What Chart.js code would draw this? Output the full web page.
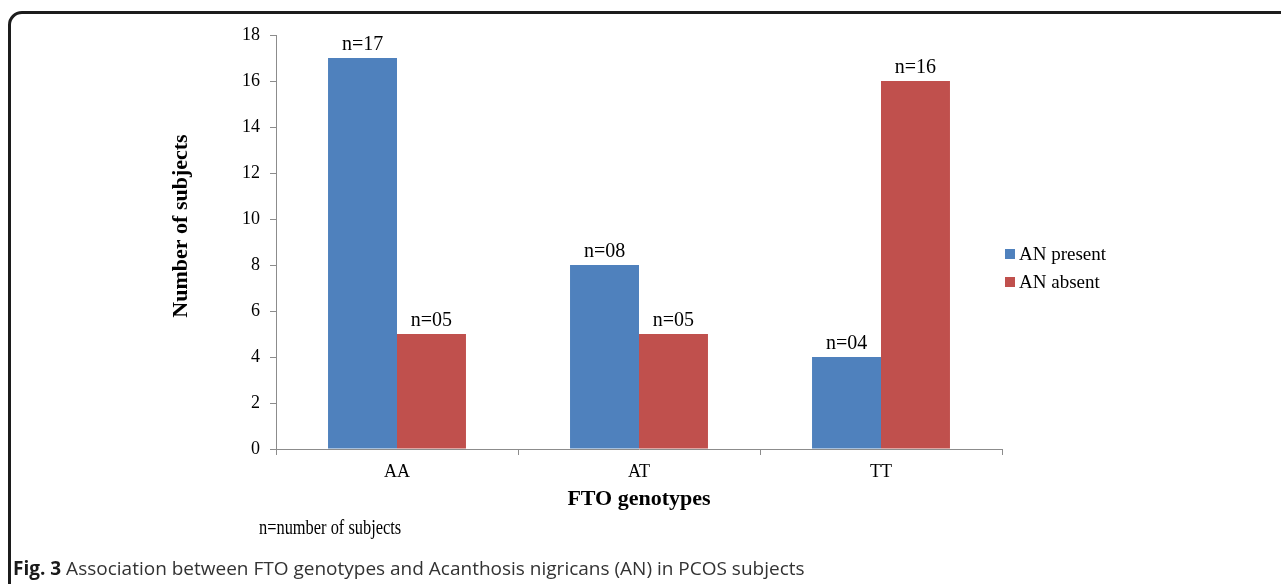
<!DOCTYPE html>
<html>
<head>
<meta charset="utf-8">
<script src="https://cdn.jsdelivr.net/npm/chart.js@4.4.1/dist/chart.umd.min.js"></script>
<style>
  html, body { margin: 0; padding: 0; background: #ffffff; }
  body { width: 1281px; height: 584px; position: relative; overflow: hidden; }
  #frame {
    position: absolute; left: 8px; top: 11px; width: 1400px; height: 700px;
    border: 3px solid #1c1c1c; border-radius: 14px; box-sizing: border-box;
  }
  #chart { position: absolute; left: 0; top: 0; }
  #note {
    position: absolute; left: 259px; top: 516px;
    font: 20px "Liberation Serif", "Times New Roman", serif; color: #000; white-space: nowrap;
    transform: scaleX(0.82); transform-origin: left center;
  }
  #caption {
    position: absolute; left: 13px; top: 555px;
    font: 19px "Open Sans", sans-serif; color: #333; white-space: nowrap;
  }
  #caption b { color: #1a1a1a; font-weight: 700; }
</style>
</head>
<body>
<div id="frame"></div>
<canvas id="chart" width="1281" height="584"></canvas>
<div id="note">n=number of subjects</div>
<div id="caption"><b>Fig. 3</b> Association between FTO genotypes and Acanthosis nigricans (AN) in PCOS subjects</div>
<script>
// Genotype groups and subject counts per group
const categories = ['AA', 'AT', 'TT'];
const seriesNames = ['AN present', 'AN absent'];
const anPresent = [17, 8, 4];
const anAbsent = [5, 5, 16];
const seriesColors = ['#4F81BD', '#C0504D'];
const yMax = 18;
const yStep = 2;

const serif = '"Liberation Serif", "Times New Roman", serif';
const axisGray = '#8c8c8c';

// "n=17" style labels above each bar
const countLabels = {
  id: 'countLabels',
  afterDatasetsDraw(chart) {
    const ctx = chart.ctx;
    ctx.save();
    ctx.font = '20px ' + serif;
    ctx.fillStyle = '#000';
    ctx.textAlign = 'center';
    ctx.textBaseline = 'bottom';
    chart.data.datasets.forEach((ds, i) => {
      chart.getDatasetMeta(i).data.forEach((bar, j) => {
        const v = ds.data[j];
        ctx.fillText('n=' + String(v).padStart(2, '0'), bar.x, bar.y - 3);
      });
    });
    ctx.restore();
  }
};

// Rotated y-axis title and the series key on the right
const extras = {
  id: 'extras',
  afterDraw(chart) {
    const ctx = chart.ctx;
    ctx.save();
    ctx.translate(181, 226);
    ctx.rotate(-Math.PI / 2);
    ctx.font = 'bold 22px ' + serif;
    ctx.fillStyle = '#000';
    ctx.textAlign = 'center';
    ctx.textBaseline = 'middle';
    ctx.fillText('Number of subjects', 0, 0);
    ctx.restore();

    ctx.save();
    ctx.font = '19px ' + serif;
    ctx.textBaseline = 'middle';
    chart.data.datasets.forEach((ds, i) => {
      const y = 254 + i * 28;
      ctx.fillStyle = ds.backgroundColor;
      ctx.fillRect(1005, y - 5, 10, 10);
      ctx.fillStyle = '#000';
      ctx.fillText(ds.label, 1019, y + 1);
    });
    ctx.restore();
  }
};

new Chart(document.getElementById('chart'), {
  type: 'bar',
  data: {
    labels: categories,
    datasets: [
      { label: seriesNames[0], data: anPresent, backgroundColor: seriesColors[0] },
      { label: seriesNames[1], data: anAbsent, backgroundColor: seriesColors[1] }
    ]
  },
  options: {
    responsive: false,
    animation: false,
    devicePixelRatio: 1,
    layout: { padding: { left: 20, top: 35, right: 279, bottom: 65 } },
    datasets: { bar: { barPercentage: 1, categoryPercentage: 0.57, borderWidth: 0 } },
    plugins: { legend: { display: false }, tooltip: { enabled: false } },
    scales: {
      x: {
        afterFit(s) { s.height = 70; },
        grid: { drawOnChartArea: false, drawTicks: true, tickLength: 6, color: axisGray, offset: true },
        border: { display: true, color: axisGray, width: 1 },
        ticks: { color: '#000', font: { family: serif, size: 18 }, padding: 6 },
        title: {
          display: true, text: 'FTO genotypes', color: '#000',
          font: { family: serif, size: 22, weight: 'bold' },
          padding: { top: 0, bottom: 6 }
        }
      },
      y: {
        min: 0, max: yMax,
        afterFit(s) { s.width = 256; },
        grid: { drawOnChartArea: false, drawTicks: true, tickLength: 6, color: axisGray },
        border: { display: true, color: axisGray, width: 1 },
        ticks: { stepSize: yStep, color: '#000', font: { family: serif, size: 18 }, padding: 10 }
      }
    }
  },
  plugins: [countLabels, extras]
});
</script>
</body>
</html>
